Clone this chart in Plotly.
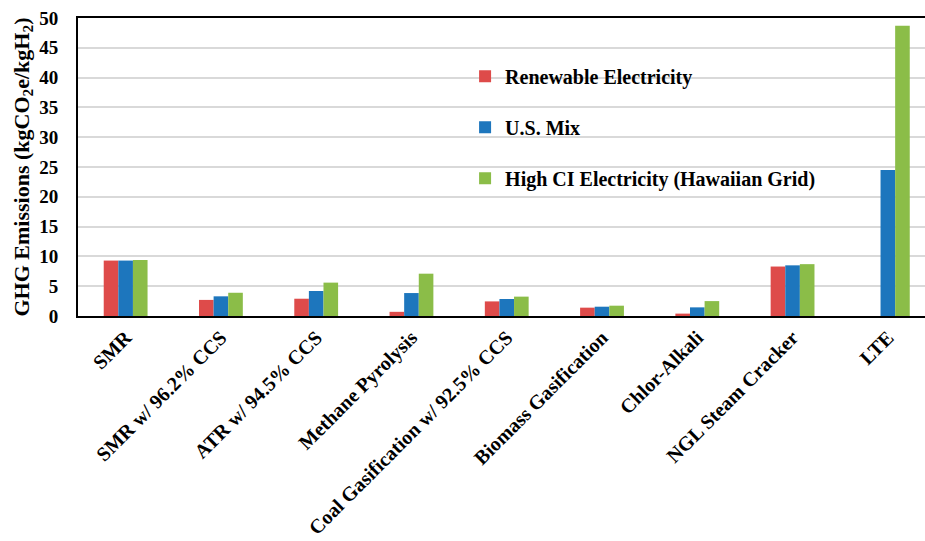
import plotly.graph_objects as go

categories = ["SMR", "SMR w/ 96.2% CCS", "ATR w/ 94.5% CCS", "Methane Pyrolysis",
              "Coal Gasification w/ 92.5% CCS", "Biomass Gasification", "Chlor-Alkali",
              "NGL Steam Cracker", "LTE"]
renewable = [9.3, 2.7, 2.9, 0.7, 2.45, 1.4, 0.4, 8.3, 0]
us_mix = [9.3, 3.3, 4.2, 3.85, 2.85, 1.56, 1.45, 8.5, 24.5]
high_ci = [9.4, 3.9, 5.6, 7.1, 3.25, 1.73, 2.5, 8.7, 48.7]
y_ticks = list(range(0, 55, 5))

FONT = "Liberation Serif"

fig = go.Figure()
series = [("Renewable Electricity", renewable, "#DE4B4A"),
          ("U.S. Mix", us_mix, "#1D76BD"),
          ("High CI Electricity (Hawaiian Grid)", high_ci, "#8BBD48")]
for i, (name, vals, col) in enumerate(series):
    fig.add_trace(go.Bar(x=categories, y=vals, name=name, marker_color=col,
                         marker_line_width=0, legendgroup=f"g{i}"))

fig.update_layout(
    width=925, height=541,
    margin=dict(l=78, r=0, t=18, b=225),
    plot_bgcolor="white", paper_bgcolor="white",
    barmode="group", bargap=0.54, bargroupgap=0,
    font=dict(family=FONT, color="black"),
    legend=dict(x=0.457, y=0.87, xanchor="left", yanchor="top",
                bgcolor="rgba(0,0,0,0)", tracegroupgap=22,
                font=dict(family=FONT, size=20, color="black", weight="bold")),
    xaxis=dict(range=[-0.5, 8.39], showline=True, linecolor="black", linewidth=2,
               mirror=True, tickangle=-45, ticks="",
               tickfont=dict(family=FONT, size=20, color="black", weight="bold"),
               showgrid=False),
    yaxis=dict(range=[0, 50], tickvals=y_ticks, showline=True, linecolor="black",
               linewidth=2, showgrid=True, gridcolor="#D9D9D9", gridwidth=1.5,
               zeroline=False, ticks="", ticklabelstandoff=14,
               tickfont=dict(family=FONT, size=19, color="black", weight="bold"),
               title=dict(text="GHG Emissions (kgCO<sub>2</sub>e/kgH<sub>2</sub>)",
                          font=dict(family=FONT, size=22, color="black", weight="bold"),
                          standoff=4)),
)

fig.write_html("out.html")
